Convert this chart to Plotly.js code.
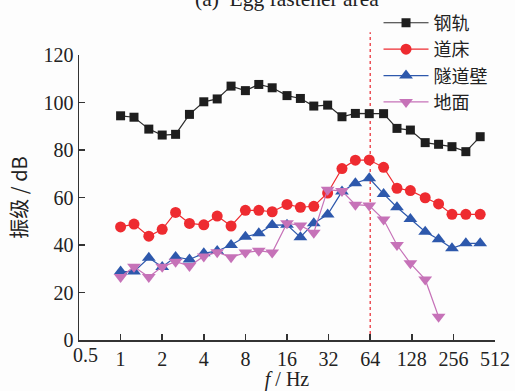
<!DOCTYPE html>
<html>
<head>
<meta charset="utf-8">
<script src="https://cdn.plot.ly/plotly-3.0.1.min.js"></script>
<style>
html,body{margin:0;padding:0;background:#fdfdfd;}
#chart{width:515px;height:391px;}
</style>
</head>
<body>
<div id="chart"></div>
<script>
// 1/3-octave centre frequencies (Hz)
const freqs = [1, 1.25, 1.6, 2, 2.5, 3.15, 4, 5, 6.3, 8, 10, 12.5, 16, 20, 25, 31.5, 40, 50, 63, 80, 100, 125, 160, 200, 250, 315, 400];
const rail   = [94.4, 93.8, 88.8, 86.3, 86.6, 95.0, 100.3, 101.5, 106.9, 105.0, 107.6, 106.2, 102.9, 101.7, 98.5, 98.9, 94.0, 95.4, 95.3, 95.3, 89.1, 88.4, 83.1, 82.4, 81.4, 79.3, 85.6];
const bed    = [47.6, 48.8, 43.7, 46.6, 53.7, 49.1, 48.5, 52.2, 48.0, 54.6, 54.6, 54.0, 57.1, 55.9, 56.3, 61.9, 72.2, 75.7, 75.8, 72.7, 63.9, 62.9, 59.9, 57.3, 52.9, 52.9, 52.9];
const wall   = [28.8, 28.8, 34.6, 30.7, 35.0, 33.9, 36.5, 37.5, 40.0, 43.5, 44.9, 48.4, 48.5, 43.3, 49.2, 52.8, 62.5, 66.0, 68.1, 61.5, 55.9, 50.9, 45.6, 42.4, 38.6, 40.7, 40.7];
const groundFreqs = [1, 1.25, 1.6, 2, 2.5, 3.15, 4, 5, 6.3, 8, 10, 12.5, 16, 20, 25, 31.5, 40, 50, 63, 80, 100, 125, 160, 200];
const ground = [26.5, 30.8, 26.5, 30.8, 33.0, 31.2, 35.2, 37.0, 34.8, 36.8, 37.6, 36.8, 49.2, 48.2, 45.2, 63.3, 62.7, 57.0, 56.6, 50.7, 40.0, 32.3, 25.5, 9.8];
const seriesNames = ['钢轨', '道床', '隧道壁', '地面'];
const tickVals = [0.5, 1, 2, 4, 8, 16, 32, 64, 128, 256, 512];
const tickText = ['0.5', '1', '2', '4', '8', '16', '32', '64', '128', '256', '512'];
const yTicks = [0, 20, 40, 60, 80, 100, 120];
const markerFreq = 64;
const titleText = '(a)  Egg fastener area';

const FONT = 'Liberation Serif, Times New Roman, Noto Sans CJK SC, serif';
const CJK = 'Noto Sans CJK SC, Liberation Serif, serif';

const traces = [
  {x: freqs, y: rail, name: seriesNames[0], mode: 'lines+markers',
   line: {color: '#2b2b2b', width: 1.2},
   marker: {symbol: 'square', size: 9, color: '#1e1e1e'}},
  {x: freqs, y: bed, name: seriesNames[1], mode: 'lines+markers',
   line: {color: '#ee2b30', width: 1.2},
   marker: {symbol: 'circle', size: 11, color: '#ee2b30'}},
  {x: freqs, y: wall, name: seriesNames[2], mode: 'lines+markers',
   line: {color: '#2d58ac', width: 1.2},
   marker: {symbol: 'triangle-up', size: 12, color: '#2d58ac'}},
  {x: groundFreqs, y: ground, name: seriesNames[3], mode: 'lines+markers',
   line: {color: '#c672b8', width: 1.2},
   marker: {symbol: 'triangle-down', size: 12, color: '#c672b8'}}
];

// the first x tick label sits slightly right of its tick in the reference
const xTickTextShown = tickText.map((t, i) => i === 0 ? '' : t);

const layout = {
  width: 515, height: 391,
  paper_bgcolor: '#fdfdfd', plot_bgcolor: '#fdfdfd',
  margin: {l: 79, r: 20, t: 55, b: 51, pad: 0, autoexpand: false},
  font: {family: FONT, size: 20, color: '#222'},
  showlegend: true,
  legend: {x: 0.72, xanchor: 'left', y: 1.177, yanchor: 'top',
           bgcolor: 'rgba(0,0,0,0)', font: {family: CJK, size: 18, color: '#222'},
           itemwidth: 45, tracegroupgap: 0},
  annotations: [
    {text: titleText, xref: 'paper', yref: 'paper', x: 0.501, y: 1.198,
     xanchor: 'center', yanchor: 'middle', showarrow: false,
     font: {family: FONT, size: 21.5, color: '#222'}},
    {text: tickText[0], xref: 'x', yref: 'paper', x: Math.log10(tickVals[0]), y: 0,
     xanchor: 'left', yanchor: 'top', xshift: -8, yshift: -2, showarrow: false,
     font: {family: FONT, size: 20, color: '#222'}}
  ],
  xaxis: {type: 'log', range: [Math.log10(0.5), Math.log10(512)],
          tickvals: tickVals, ticktext: xTickTextShown,
          ticks: 'inside', ticklen: 6, tickwidth: 1.5, tickcolor: '#333',
          showline: true, linecolor: '#333', linewidth: 1.5,
          showgrid: false, zeroline: false,
          tickfont: {family: FONT, size: 20, color: '#222'},
          title: {text: '<i>f</i> / Hz', font: {family: FONT, size: 20, color: '#222'}, standoff: 4}},
  yaxis: {range: [0, 120], tickvals: yTicks,
          ticks: 'inside', ticklen: 6, tickwidth: 1.5, tickcolor: '#333',
          showline: true, linecolor: '#333', linewidth: 1.5,
          showgrid: false, zeroline: false,
          tickfont: {family: FONT, size: 20, color: '#222'},
          title: {text: '振级 / dB', font: {family: CJK, size: 20, color: '#222'}, standoff: 10}},
  shapes: [{type: 'line', xref: 'x', yref: 'paper', x0: markerFreq, x1: markerFreq, y0: 0, y1: 1.08,
            line: {color: '#e8262d', width: 1.2, dash: 'dot'}, layer: 'below'}]
};

Plotly.newPlot('chart', traces, layout, {displayModeBar: false, staticPlot: true});
</script>
</body>
</html>
